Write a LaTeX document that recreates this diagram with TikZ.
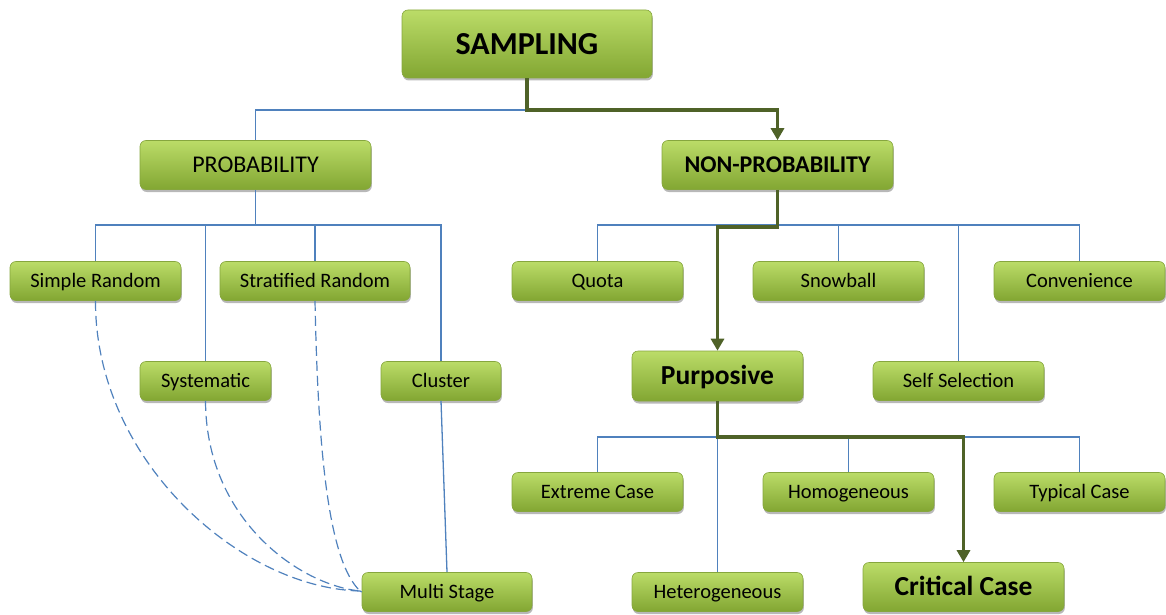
\documentclass[tikz,border=0pt]{standalone}
\usepackage{fontspec}
\setmainfont{Carlito}
\usetikzlibrary{shadows,arrows.meta}
\definecolor{gtop}{HTML}{BBDC68}
\definecolor{gbot}{HTML}{82A632}
\definecolor{gedge}{HTML}{86A63E}
\definecolor{linkblue}{HTML}{4F81BD}
\definecolor{pathgreen}{HTML}{4F6228}
\newcommand{\fs}[1]{\fontsize{#1}{#1}\selectfont}
\begin{document}
\begin{tikzpicture}[x=1pt,y=-1pt,
  box/.style={draw=gedge, line width=0.6pt, rounded corners=6pt,
    top color=gtop, bottom color=gbot, inner sep=0pt, align=center,
    minimum width=171pt, minimum height=39pt, font=\fs{20.5},
    text height=13.2pt, text depth=0pt,
    drop shadow={shadow xshift=0.8pt, shadow yshift=-2.5pt, opacity=0.35, fill=black!80}},
  bigtext/.style={font=\fs{#1}\bfseries, text height=0.644*#1 pt},
  link/.style={draw=linkblue, line width=1.3pt},
  route/.style={draw=pathgreen, line width=3.6pt},
  routearrow/.style={route, -{Triangle[length=12pt,width=13pt]}},
  tie/.style={draw=linkblue, line width=1.2pt, dash pattern=on 10pt off 5pt}]
\useasboundingbox (0,0) rectangle (1166,615);

% boxes
\node[box, minimum width=250pt, minimum height=68pt, bigtext=32] (samp) at (527,44) {SAMPLING};
\node[box, minimum width=231pt, minimum height=49pt, font=\fs{24}, text height=15.5pt] (prob) at (255.5,165) {PROBABILITY};
\node[box, minimum width=231pt, minimum height=49pt, bigtext=24] (nonprob) at (777.5,165) {NON-PROBABILITY};

\node[box] (simple) at (95.5,281) {Simple Random};
\node[box, minimum width=190pt] (strat) at (315,281) {Stratified Random};
\node[box, minimum width=131pt] (syst) at (205.5,381) {Systematic};
\node[box, minimum width=120pt] (clust) at (441,381) {Cluster};
\node[box, minimum width=170pt] (multi) at (447,592) {Multi Stage};

\node[box] (quota) at (597.5,281) {Quota};
\node[box] (snow) at (838.5,281) {Snowball};
\node[box] (conv) at (1079.5,281) {Convenience};
\node[box, minimum height=50pt, bigtext=27.5] (purp) at (717.5,376) {Purposive};
\node[box] (self) at (958.5,381) {Self Selection};

\node[box] (extr) at (597.5,492) {Extreme Case};
\node[box] (homo) at (848.5,492) {Homogeneous};
\node[box] (typ) at (1079.5,492) {Typical Case};
\node[box] (hetero) at (717.5,592) {Heterogeneous};
\node[box, minimum width=201pt, minimum height=49pt, bigtext=27.5] (crit) at (963.5,587) {Critical Case};

% junction points
\coordinate (j0) at (527,110);
\coordinate (jp) at (255.5,225);
\coordinate (jn) at (777.5,225);
\coordinate (jng) at (777.5,227);
\coordinate (ju) at (717.5,437);
\coordinate (mj) at (360,591);

% top level
\draw[link] (samp.south) -- (j0) -| (prob.north);

% probability branch
\draw[link] (prob.south) -- (jp);
\draw[link] (jp) -| (simple.north);
\draw[link] (jp) -| (syst.north);
\draw[link] (jp) -| (strat.north);
\draw[link] (jp) -| (clust.north);
\draw[link] (clust.south) -- (multi.north);

% dashed ties into multi stage
\draw[tie] (simple.south) .. controls (95,460) and (240,588) .. (mj);
\draw[tie] (syst.south) .. controls (206,520) and (300,585) .. (mj);
\draw[tie] (strat.south) .. controls (318,450) and (328,560) .. (mj);
\draw[link, line width=1.2pt] (mj) -- (multi.west);

% non-probability branch
\draw[link] (nonprob.south) -- (jn);
\draw[link] (jn) -| (quota.north);
\draw[link] (jn) -| (snow.north);
\draw[link] (jn) -| (conv.north);
\draw[link] (jn) -| (self.north);

% purposive branch
\draw[link] (purp.south) -- (hetero.north);
\draw[link] (ju) -| (extr.north);
\draw[link] (ju) -| (homo.north);
\draw[link] (ju) -| (typ.north);

% highlighted route
\draw[routearrow] (samp.south) -- (j0) -| (nonprob.north);
\draw[routearrow] (nonprob.south) -- (jng) -| (purp.north);
\draw[routearrow] (purp.south) -- (ju) -| (crit.north);
\end{tikzpicture}
\end{document}
